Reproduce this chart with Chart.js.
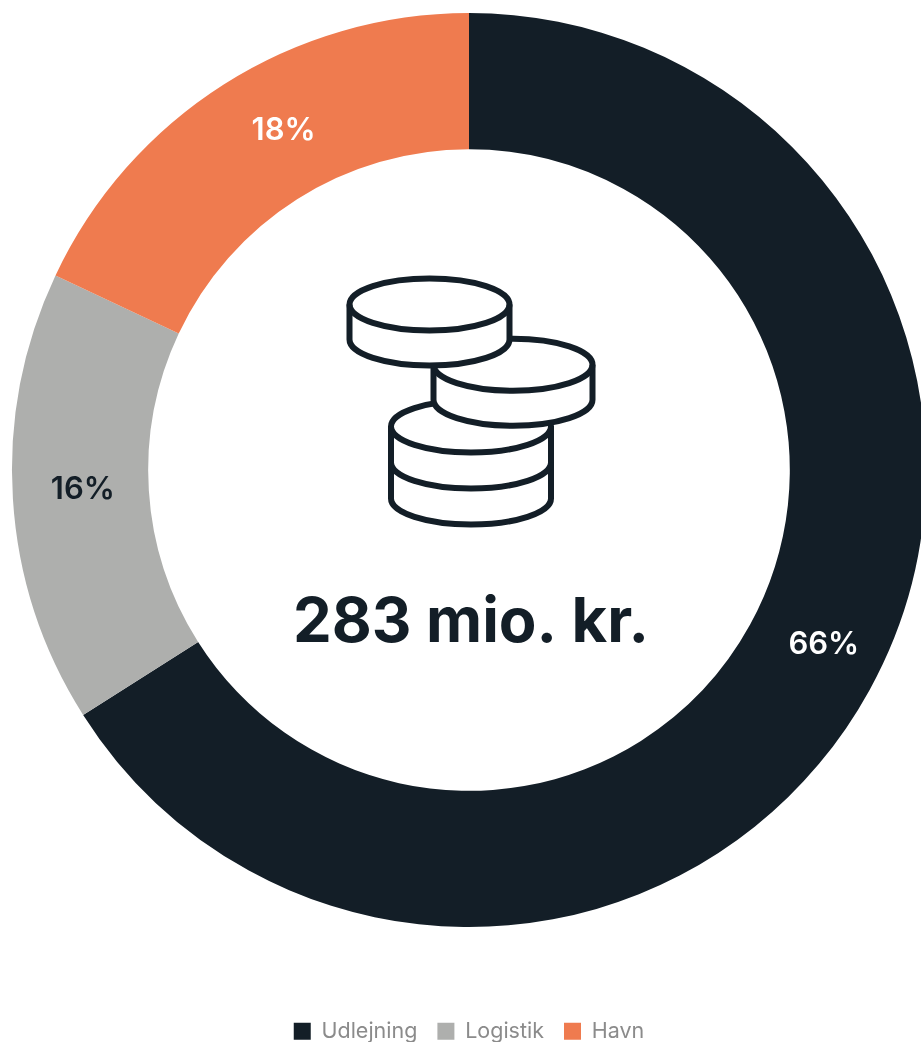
<!DOCTYPE html>
<html>
<head>
<meta charset="utf-8">
<title>283 mio. kr.</title>
<script src="https://cdn.jsdelivr.net/npm/chart.js@4"></script>
<style>
  html, body { margin: 0; padding: 0; background: #fff; overflow: hidden; }
  #wrap { position: relative; width: 921px; height: 1042px; overflow: hidden; }
  #canvasBox { position: absolute; left: 0; top: 0; width: 938px; height: 1042px; }
  #coins { position: absolute; left: 0; top: 0; pointer-events: none; }
  #coins path { fill: #fff; stroke: #131e27; stroke-width: 6; stroke-linejoin: round; }
</style>
</head>
<body>
<div id="wrap">
  <div id="canvasBox"><canvas id="donut"></canvas></div>
  <svg id="coins" width="921" height="1042">
    <!-- bottom coin stack -->
    <path d="M391 426.5A80 26 0 0 1 551 426.5V498.5A80 26 0 0 1 391 498.5Z"/>
    <path d="M391 462.5A80 26 0 0 0 551 462.5" style="fill:none"/>
    <path d="M391 426.5A80 26 0 0 0 551 426.5" style="fill:none"/>
    <!-- middle coin -->
    <path d="M433.5 364.7A79.5 26 0 0 1 592.5 364.7V399.7A79.5 26 0 0 1 433.5 399.7Z"/>
    <path d="M433.5 364.7A79.5 26 0 0 0 592.5 364.7" style="fill:none"/>
    <!-- top coin -->
    <path d="M349.5 304.5A80 26 0 0 1 509.5 304.5V339.5A80 26 0 0 1 349.5 339.5Z"/>
    <path d="M349.5 304.5A80 26 0 0 0 509.5 304.5" style="fill:none"/>
  </svg>
</div>
<script>
const categories = ["Udlejning", "Logistik", "Havn"];
const shares = [66, 16, 18];
const colors = ["#131e27", "#aeafad", "#ef7b4f"];
const labelColors = ["#ffffff", "#131e27", "#ffffff"];
const totalLabel = "283 mio. kr.";

// the labels do not sit exactly on the ring's middle in the original
const labelNudge = [[14, -13], [2, -5], [23, -11]];

const sliceLabels = {
  id: "sliceLabels",
  afterDraw(chart) {
    const ctx = chart.ctx;
    const arcs = chart.getDatasetMeta(0).data;
    ctx.save();
    ctx.textAlign = "center";
    ctx.textBaseline = "middle";
    ctx.font = "600 31px Inter";
    arcs.forEach((arc, i) => {
      const p = arc.getCenterPoint();
      ctx.fillStyle = labelColors[i];
      ctx.fillText(shares[i] + "%", p.x + labelNudge[i][0], p.y + labelNudge[i][1]);
    });
    ctx.font = "700 61.5px Inter";
    ctx.fillStyle = "#131e27";
    ctx.fillText(totalLabel, 471, 624);
    ctx.restore();
  }
};

new Chart(document.getElementById("donut"), {
  type: "doughnut",
  data: {
    labels: categories,
    datasets: [{ data: shares, backgroundColor: colors, borderWidth: 0 }]
  },
  options: {
    responsive: true,
    maintainAspectRatio: false,
    animation: false,
    cutout: "70.2%",
    layout: { padding: { top: 12, left: 12, right: 12, bottom: -10 } },
    plugins: {
      tooltip: { enabled: false },
      legend: {
        position: "bottom",
        // empty title only pushes the legend down below the ring
        title: { display: true, text: "", padding: { top: 58, bottom: 0 } },
        labels: {
          boxWidth: 17,
          boxHeight: 17,
          padding: 20,
          color: "#8b8b8b",
          font: { family: "Inter", size: 21.5 }
        }
      }
    }
  },
  plugins: [sliceLabels]
});
</script>
</body>
</html>
